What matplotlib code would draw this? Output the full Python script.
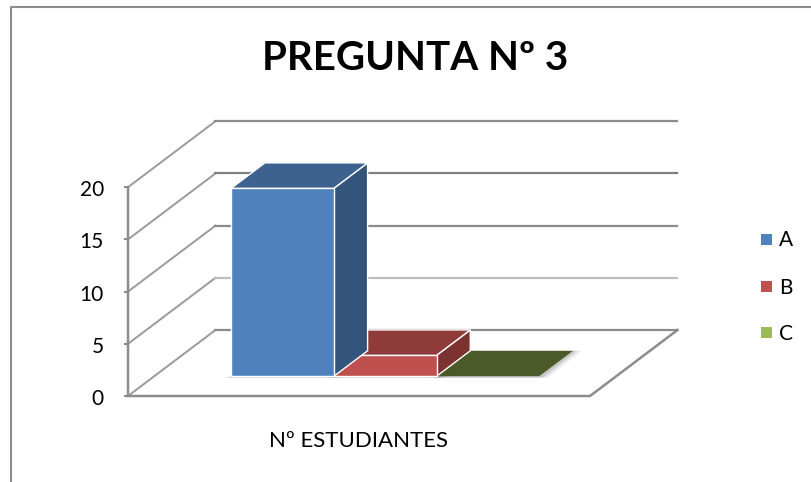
import numpy as np
import matplotlib
matplotlib.use('Agg')
import matplotlib.pyplot as plt
from matplotlib.patches import Polygon, Rectangle

title = 'PREGUNTA Nº 3'
category = 'Nº ESTUDIANTES'
series = ['A', 'B', 'C']
values = [18, 2, 0]
ticks = [0, 5, 10, 15, 20]

front = ['#4F81BD', '#C0504D', '#9BBB59']
top = ['#3D6290', '#8F3B39', '#4B5A28']
side = ['#34547C', '#7C3230', '#3F4D22']
grid_col = ['#8C8C8C', '#BDBDBD', '#8C8C8C', '#808080', '#8C8C8C']

plt.rcParams['font.family'] = ['Lato', 'DejaVu Sans']

# the plot box in pixels, front corner of the floor and the shift to the back wall
x0, y0 = 128.0, 396.0
floor_w = 462.0
unit = 10.44
dx, dy = 87.5, -66.0
gap = 0.75          # gap on each side of the bars, in bar widths
d1, d2 = 0.30, 0.685  # depth range of the bars


def proj(x, v, d):
    # x across the floor (0-1), v value, d depth (0-1)
    return (x0 + x * floor_w + d * dx, y0 - v * unit + d * dy)


fig = plt.figure(figsize=(8.12, 4.82), dpi=100)
ax = fig.add_axes([0, 0, 1, 1])
ax.set_xlim(0, 812)
ax.set_ylim(482, 0)
ax.axis('off')

# outer chart border
ax.plot([11, 11, 812], [482, 7, 7], color='#8C8C8C', lw=1.5, zorder=1)

# walls
for t, c in zip(ticks, grid_col):
    left = [proj(0, t, 0), proj(0, t, 1)]
    back = [proj(0, t, 1), proj(1, t, 1)]
    ax.plot(*zip(*left), color='#9A9A9A', lw=1.4, zorder=2)
    ax.plot(*zip(*back), color=c, lw=1.6, zorder=2)
    tick = [proj(0, t, 0), (proj(0, t, 0)[0] - 3, proj(0, t, 0)[1])]
    ax.plot(*zip(*tick), color='#8C8C8C', lw=1.5, zorder=2)
    ax.text(104, proj(0, t, 0)[1] + 3, str(t), ha='right', va='center', fontsize=15, color='black')

axis_pts = [proj(0, ticks[-1], 0), proj(0, 0, 0), proj(1, 0, 0), proj(1, 0, 1)]
ax.plot(*zip(*axis_pts), color='#8C8C8C', lw=1.8, zorder=3, solid_joinstyle='miter')

# bars
bar_w = 1.0 / (len(values) + 2 * gap)
for i, v in enumerate(values):
    xa = (gap + i) * bar_w
    xb = xa + bar_w
    z = 5 - i * 0.1
    # soft shadow on the floor
    for k, a in zip([9, 6, 3], [0.10, 0.16, 0.25]):
        sh = [proj(xa, 0, d1), proj(xb, 0, d1), proj(xb, 0, d2)]
        sh = [(sh[0][0] - k, sh[0][1] + 1.5), (sh[1][0] + k, sh[1][1] + 1.5),
              (sh[2][0] + k, sh[2][1]), (sh[2][0], sh[2][1]), (sh[0][0], sh[0][1])]
        ax.add_patch(Polygon(sh, closed=True, fc='#808080', ec='none', alpha=a, zorder=4))
    f = [proj(xa, 0, d1), proj(xb, 0, d1), proj(xb, v, d1), proj(xa, v, d1)]
    s = [proj(xb, 0, d1), proj(xb, 0, d2), proj(xb, v, d2), proj(xb, v, d1)]
    t = [proj(xa, v, d1), proj(xb, v, d1), proj(xb, v, d2), proj(xa, v, d2)]
    ec = 'white' if v > 0 else 'none'
    if v > 0:
        ax.add_patch(Polygon(s, closed=True, fc=side[i], ec=ec, lw=1.0, zorder=z))
        ax.add_patch(Polygon(f, closed=True, fc=front[i], ec=ec, lw=1.0, zorder=z))
    ax.add_patch(Polygon(t, closed=True, fc=top[i], ec=ec, lw=1.0, zorder=z))

# title and category label
ax.text(415.5, 58.5, title, ha='center', va='center', fontsize=29, fontweight='bold', color='black')
ax.text(359, 441, category, ha='center', va='center', fontsize=16, color='black')

# legend
for name, c, y in zip(series, front, [239, 286, 332]):
    ax.add_patch(Rectangle((761, y - 5.5), 11, 11, fc=c, ec='none', zorder=5))
    ax.text(779, y + 1.5, name, ha='left', va='center', fontsize=15, color='black')

fig.savefig('out.png', dpi=100)
